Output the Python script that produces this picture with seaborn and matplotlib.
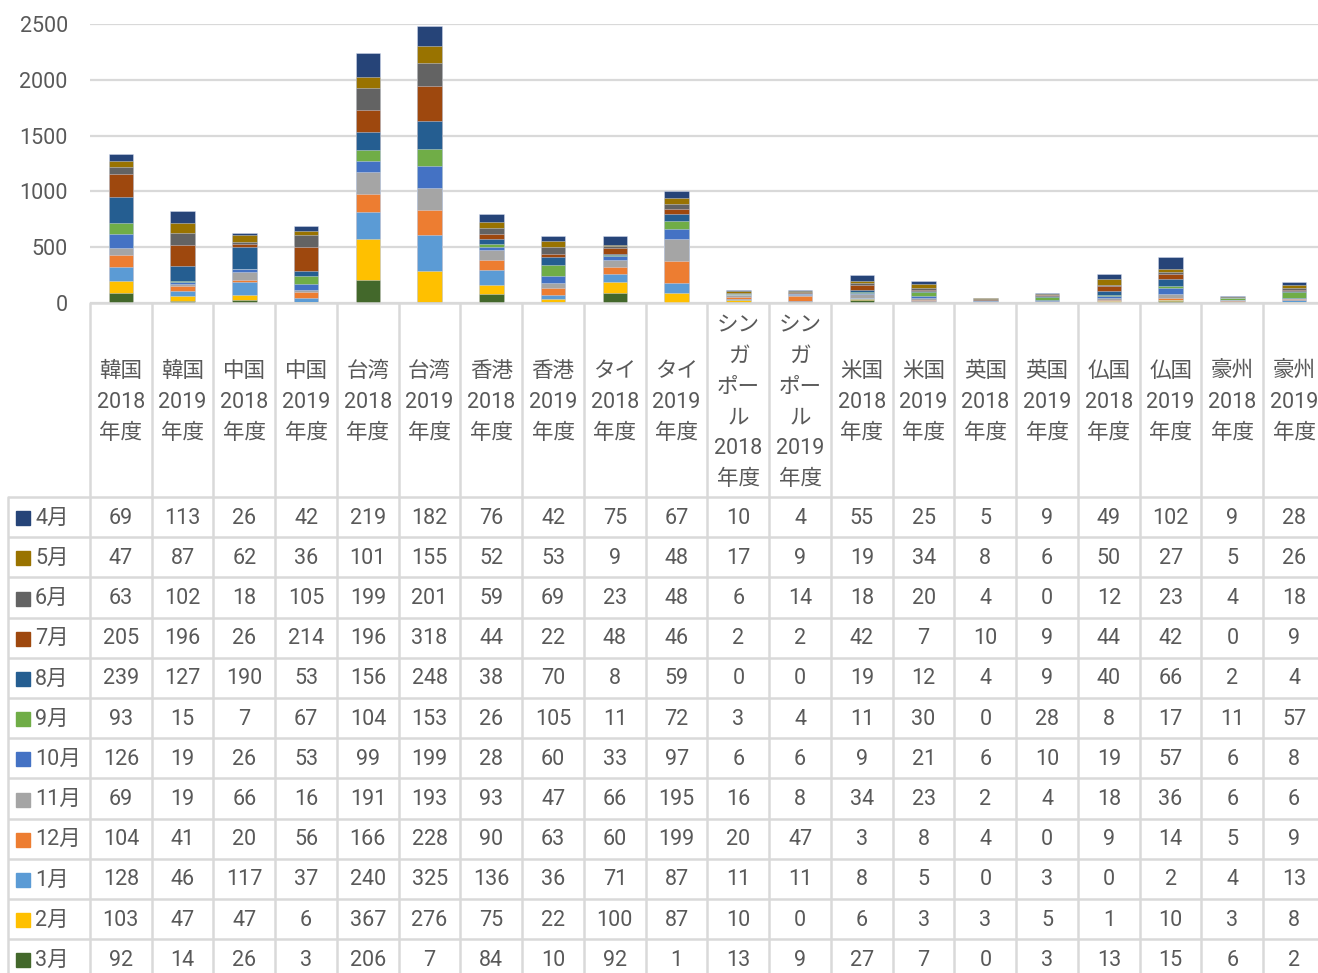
import numpy as np
import pandas as pd
import matplotlib
matplotlib.use("Agg")
import matplotlib.pyplot as plt
import seaborn as sns
from matplotlib.transforms import blended_transform_factory
from matplotlib.patches import Rectangle

# ---------------- data ----------------
categories = ["韓国\n2018\n年度", "韓国\n2019\n年度", "中国\n2018\n年度", "中国\n2019\n年度",
              "台湾\n2018\n年度", "台湾\n2019\n年度", "香港\n2018\n年度", "香港\n2019\n年度",
              "タイ\n2018\n年度", "タイ\n2019\n年度", "シン\nガ\nポー\nル\n2018\n年度",
              "シン\nガ\nポー\nル\n2019\n年度", "米国\n2018\n年度", "米国\n2019\n年度",
              "英国\n2018\n年度", "英国\n2019\n年度", "仏国\n2018\n年度", "仏国\n2019\n年度",
              "豪州\n2018\n年度", "豪州\n2019\n年度"]

months = ["4月", "5月", "6月", "7月", "8月", "9月", "10月", "11月", "12月", "1月", "2月", "3月"]
month_colors = ["#264478", "#997300", "#636363", "#9E480E", "#255E91", "#70AD47",
                "#4472C4", "#A5A5A5", "#ED7D31", "#5B9BD5", "#FFC000", "#43682B"]

apr = [69, 113, 26, 42, 219, 182, 76, 42, 75, 67, 10, 4, 55, 25, 5, 9, 49, 102, 9, 28]
may = [47, 87, 62, 36, 101, 155, 52, 53, 9, 48, 17, 9, 19, 34, 8, 6, 50, 27, 5, 26]
jun = [63, 102, 18, 105, 199, 201, 59, 69, 23, 48, 6, 14, 18, 20, 4, 0, 12, 23, 4, 18]
jul = [205, 196, 26, 214, 196, 318, 44, 22, 48, 46, 2, 2, 42, 7, 10, 9, 44, 42, 0, 9]
aug = [239, 127, 190, 53, 156, 248, 38, 70, 8, 59, 0, 0, 19, 12, 4, 9, 40, 66, 2, 4]
sep = [93, 15, 7, 67, 104, 153, 26, 105, 11, 72, 3, 4, 11, 30, 0, 28, 8, 17, 11, 57]
oct_ = [126, 19, 26, 53, 99, 199, 28, 60, 33, 97, 6, 6, 9, 21, 6, 10, 19, 57, 6, 8]
nov = [69, 19, 66, 16, 191, 193, 93, 47, 66, 195, 16, 8, 34, 23, 2, 4, 18, 36, 6, 6]
dec = [104, 41, 20, 56, 166, 228, 90, 63, 60, 199, 20, 47, 3, 8, 4, 0, 9, 14, 5, 9]
jan = [128, 46, 117, 37, 240, 325, 136, 36, 71, 87, 11, 11, 8, 5, 0, 3, 0, 2, 4, 13]
feb = [103, 47, 47, 6, 367, 276, 75, 22, 100, 87, 10, 0, 6, 3, 3, 5, 1, 10, 3, 8]
mar = [92, 14, 26, 3, 206, 7, 84, 10, 92, 1, 13, 9, 27, 7, 0, 3, 13, 15, 6, 2]

series = [apr, may, jun, jul, aug, sep, oct_, nov, dec, jan, feb, mar]
y_ticks = [0, 500, 1000, 1500, 2000, 2500]

# ---------------- style ----------------
sns.set_style("white")
plt.rcParams["font.family"] = ["Roboto", "Noto Sans CJK JP", "DejaVu Sans"]
TXT = "#595959"
GRID = "#D9D9D9"

W, H = 1318, 973
fig = plt.figure(figsize=(W / 100, H / 100), dpi=100)

# layout in pixels
x_left = 90
col_w = 61.75
y_zero = 303
y_top = 24
ax = fig.add_axes([x_left / W, (H - y_zero) / H, 20 * col_w / W, (y_zero - y_top) / H])

df = pd.DataFrame({m: v for m, v in zip(months, series)})
df["cat"] = categories
# stacking: 3月 at the bottom ... 4月 on top -> draw cumulative totals top-down
stack_order = months[::-1]
cum = df[stack_order].cumsum(axis=1)
for m in months:  # from 4月 (full total) down to 3月
    sns.barplot(x=df["cat"], y=cum[m], color=month_colors[months.index(m)], order=categories,
                width=0.4, saturation=1, errorbar=None, edgecolor=(0.85, 0.88, 0.95, 0.7),
                linewidth=0.45, ax=ax, zorder=3)

ax.set_ylim(0, 2500)
ax.set_xlim(-0.5, 19.5)
ax.set_yticks(y_ticks)
ax.set_yticklabels([str(t) for t in y_ticks])
ax.tick_params(axis="y", labelsize=15.5, colors=TXT, length=0, pad=16)
ax.tick_params(axis="x", labelbottom=False, length=0)
ax.set_xlabel("")
ax.set_ylabel("")
ax.yaxis.grid(True, color=GRID, linewidth=1.6, zorder=0)
ax.set_axisbelow(True)
for s in ax.spines.values():
    s.set_visible(False)

# ---------------- data table ----------------
ov = fig.add_axes([0, 0, 1, 1], zorder=5)
ov.set_xlim(0, W)
ov.set_ylim(H, 0)
ov.axis("off")
ov.patch.set_alpha(0)
tr = blended_transform_factory(ax.transData, ov.transData)

row_top = 497
row_h = 40.2
n_rows = len(months)
table_left = 8

# horizontal lines
ov.plot([x_left, W], [y_zero, y_zero], color=GRID, lw=1.8, solid_capstyle="butt")
for k in range(n_rows):
    y = row_top + k * row_h
    ov.plot([table_left, W], [y, y], color=GRID, lw=1.8, solid_capstyle="butt")
# vertical lines
for i in range(len(categories) + 1):
    ov.plot([i - 0.5, i - 0.5], [y_zero, H], color=GRID, lw=1.8, transform=tr, clip_on=False)
ov.plot([table_left, table_left], [row_top, H], color=GRID, lw=1.8)

# header labels
line_gap = 30.8
head_c = (y_zero + row_top) / 2 + 2.5
for i, cat in enumerate(categories):
    lines = cat.split("\n")
    n = len(lines)
    for j, ln in enumerate(lines):
        y = head_c + (j - (n - 1) / 2) * line_gap
        ov.text(i, y, ln, transform=tr, ha="center", va="center", fontsize=15.5, color=TXT,
                family=["Roboto", "Noto Sans CJK JP"])

# rows
for k, (m, c, vals) in enumerate(zip(months, month_colors, series)):
    yc = row_top + (k + 0.5) * row_h + 1
    ov.add_patch(Rectangle((16, yc - 7), 14, 14, color=c))
    ov.text(35, yc, m, ha="left", va="center", fontsize=15.5, color=TXT,
            family=["Roboto", "Noto Sans CJK JP"])
    for i, v in enumerate(vals):
        ov.text(i, yc, str(v), transform=tr, ha="center", va="center", fontsize=15.5, color=TXT)

fig.savefig("out.png", dpi=100)
